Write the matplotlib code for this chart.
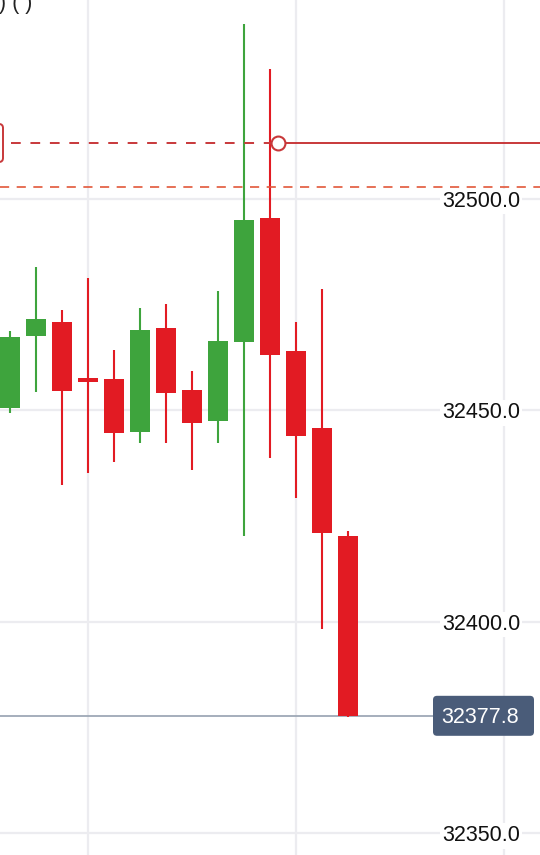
import numpy as np
import matplotlib.pyplot as plt
from matplotlib.patches import FancyBboxPatch, Rectangle
from matplotlib.transforms import IdentityTransform, blended_transform_factory

# OHLC values
opens = [32450.6, 32467.5, 32471.0, 32457.3, 32457.4, 32445.0, 32469.4,
         32454.9, 32447.6, 32466.1, 32495.5, 32464.0, 32445.9, 32420.3]
highs = [32468.8, 32483.8, 32473.8, 32481.3, 32464.3, 32474.2, 32475.2,
         32459.2, 32478.3, 32541.4, 32530.7, 32470.8, 32478.7, 32421.6]
lows = [32449.4, 32454.3, 32432.3, 32435.3, 32437.8, 32442.2, 32442.2,
        32435.8, 32442.2, 32420.3, 32438.8, 32429.2, 32398.3, 32377.6]
closes = [32467.4, 32471.5, 32454.5, 32457.0, 32444.6, 32469.0, 32454.1,
          32447.0, 32466.4, 32495.0, 32463.0, 32444.0, 32420.9, 32377.8]

y_ticks = [32350.0, 32400.0, 32450.0, 32500.0]
order_price = 32513.2
order_marker_x = 10.3
alert_price = 32502.8
last_price = closes[-1]

green = '#3ea43d'
red = '#e21b23'
order_red = '#c8383a'
alert_orange = '#e2573a'
grid_color = '#ececf0'

fig = plt.figure(figsize=(5.4, 8.55), dpi=100)
ax = fig.add_axes([0, 0, 1, 1])
ax.set_xlim(-0.385, 20.385)
ax.set_ylim(32344.9, 32547.0)
ax.axis('off')

# grid
for gx in [3, 11, 19]:
    ax.axvline(gx, color=grid_color, lw=1.6, zorder=0)
for gy in y_ticks:
    ax.axhline(gy, color=grid_color, lw=1.6, zorder=0)

# candles
body_w = 0.77
for i, (o, h, l, c) in enumerate(zip(opens, highs, lows, closes)):
    col = green if c >= o else red
    ax.plot([i, i], [l, h], color=col, lw=1.5, zorder=2, solid_capstyle='butt')
    lo, hi = min(o, c), max(o, c)
    if hi - lo < 0.9:
        mid = (hi + lo) / 2
        lo, hi = mid - 0.45, mid + 0.45
    ax.add_patch(Rectangle((i - body_w / 2, lo), body_w, hi - lo,
                           facecolor=col, edgecolor='none', zorder=3))

# alert line (orange dashed)
ax.axhline(alert_price, color=alert_orange, lw=1.2, ls=(0, (5.5, 4.5)), zorder=4)

# order line: dashed up to the marker, solid after it
ax.plot([0.05, order_marker_x], [order_price, order_price], color=order_red,
        lw=1.4, ls=(0, (5, 5)), zorder=4)
ax.plot([order_marker_x, 21], [order_price, order_price], color=order_red,
        lw=1.4, zorder=4)
ax.plot(order_marker_x, order_price, 'o', ms=10, mfc='white', mec=order_red,
        mew=1.5, zorder=5)

fig.canvas.draw()
px = IdentityTransform()
order_py = ax.transData.transform((0, order_price))[1]
ax.add_patch(FancyBboxPatch((-40, order_py - 19), 43, 38,
                            boxstyle='round,pad=0,rounding_size=4',
                            fc='white', ec=order_red, lw=1.4,
                            transform=px, zorder=5, clip_on=False))

# y tick labels inside the plot
trans = blended_transform_factory(ax.transAxes, ax.transData)
for v in y_ticks:
    ax.text(0.963, v - 0.6, f'{v:.1f}', transform=trans, ha='right', va='center',
            fontsize=15.5, family='Liberation Sans', color='#111111', zorder=6,
            bbox=dict(boxstyle='square,pad=0.1', fc='white', ec='none'))

# last price line and label
last_py = ax.transData.transform((0, last_price))[1]
ax.plot([0, 433], [last_py, last_py], color='#9ea8b6', lw=1.3, zorder=1,
        transform=px)
ax.add_patch(FancyBboxPatch((433, last_py - 20), 101, 40,
                            boxstyle='round,pad=0,rounding_size=4',
                            fc='#4a5c79', ec='none', transform=px, zorder=6))
ax.text(480, last_py - 2, f'{last_price:.1f}', transform=px, ha='center', va='center',
        fontsize=15.5, family='Liberation Sans', color='white', zorder=7)

# clipped header text at top-left
ax.text(-1, 855 - 9, ') ( )', transform=px, ha='left', va='baseline',
        fontsize=15.5, family='Liberation Sans', color='#222222')

fig.savefig('out.png', dpi=100)
